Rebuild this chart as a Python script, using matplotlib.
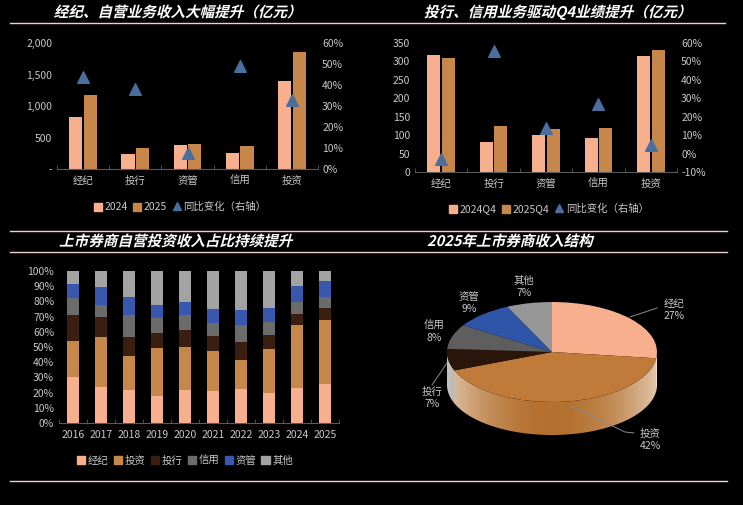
import matplotlib
matplotlib.use("Agg")
import matplotlib.pyplot as plt
import numpy as np
from matplotlib.lines import Line2D
from matplotlib.patches import Patch, Polygon
from matplotlib.ticker import FuncFormatter, FixedLocator
from matplotlib.patheffects import AbstractPathEffect
from matplotlib.transforms import Affine2D
from matplotlib.colors import to_rgb

plt.rcParams['font.family'] = ['Noto Sans CJK SC', 'DejaVu Sans']
plt.rcParams['axes.unicode_minus'] = False

# ---------------- data ----------------
categories = ['经纪', '投行', '资管', '信用', '投资']
rev_2024 = [820, 236, 376, 250, 1392]
rev_2025 = [1180, 326, 402, 372, 1852]
yoy_annual = [0.44, 0.38, 0.076, 0.49, 0.33]

q4_2024 = [318, 81, 101, 92, 315]
q4_2025 = [310, 125, 116, 119, 332]
yoy_q4 = [-0.03, 0.555, 0.138, 0.27, 0.045]

years = ['2016', '2017', '2018', '2019', '2020', '2021', '2022', '2023', '2024', '2025']
share_jingji = [30.3, 24.0, 22.0, 18.0, 22.0, 21.0, 22.4, 20.0, 23.0, 25.9]
share_touzi = [23.7, 32.6, 22.0, 31.6, 28.2, 26.6, 19.0, 28.7, 41.7, 41.9]
share_touhang = [17.0, 13.1, 12.8, 9.4, 11.0, 9.6, 11.9, 9.2, 7.0, 7.9]
share_xinyong = [11.0, 7.9, 14.2, 10.0, 9.8, 8.4, 11.2, 8.8, 8.1, 7.4]
share_ziguan = [9.4, 11.7, 12.0, 8.6, 8.8, 9.2, 9.8, 9.2, 10.6, 10.1]
share_qita = [8.6, 10.7, 17.0, 22.4, 20.2, 25.2, 25.7, 24.1, 9.6, 6.8]
stack_names = ['经纪', '投资', '投行', '信用', '资管', '其他']

pie_labels = ['经纪', '投资', '投行', '信用', '资管', '其他']
pie_share = [27, 42, 7, 8, 9, 7]

# ---------------- style ----------------
BG = '#000000'
C_LIGHT = '#F7AF8E'
C_BROWN = '#C7864A'
C_DARK = '#3A1E0F'
C_GRAY = '#6B6B6B'
C_BLUE = '#3858AE'
C_LGRAY = '#A3A3A3'
C_TRI = '#4A6E9E'
TXT = '#C8C8C8'
LINE = '#EBD3CF'
FS = 7.5

W, H = 743, 505
fig = plt.figure(figsize=(W / 100, H / 100), dpi=100, facecolor=BG)


def rect(l, t, r, b):
    return [l / W, 1 - b / H, (r - l) / W, (b - t) / H]


def fx(px):
    return px / W


def fy(py):
    return 1 - py / H


class Skew(AbstractPathEffect):
    def __init__(self, deg=14):
        super().__init__()
        self.deg = deg

    def draw_path(self, renderer, gc, tpath, affine, rgbFace=None):
        renderer.draw_path(gc, tpath, Affine2D().skew_deg(self.deg, 0) + affine, rgbFace)


# separator lines
for (x0, x1, yy) in [(10, 725, 23), (10, 727, 231), (10, 727, 252), (10, 727, 481)]:
    fig.add_artist(Line2D([fx(x0), fx(x1)], [fy(yy), fy(yy)], color=LINE, lw=1.0))

title_kw = dict(color='white', fontsize=10.5, fontweight='bold', ha='center', va='center',
                path_effects=[Skew(14)])
fig.text(fx(178), fy(12), '经纪、自营业务收入大幅提升（亿元）', **title_kw)
fig.text(fx(558), fy(12), '投行、信用业务驱动Q4业绩提升（亿元）', **title_kw)
fig.text(fx(176), fy(241), '上市券商自营投资收入占比持续提升', **title_kw)
fig.text(fx(510), fy(241), '2025年上市券商收入结构', **title_kw)


def style_axes(ax):
    ax.set_facecolor('none')
    for s in ['top', 'left', 'right']:
        ax.spines[s].set_visible(False)
    ax.spines['bottom'].set_color('#5A5A5A')
    ax.spines['bottom'].set_linewidth(0.8)
    ax.tick_params(axis='y', length=0, colors=TXT, labelsize=FS)
    ax.tick_params(axis='x', which='major', length=0, colors=TXT, labelsize=FS, pad=5)
    ax.tick_params(axis='x', which='minor', length=3, direction='in', color='#5A5A5A')


def bar_panel(ax, v1, v2, yoy, ymax, ystep, rlim, rstep, lfmt, lab1, lab2, legend_xy):
    x = np.arange(len(categories))
    w = 0.25
    ax.bar(x - 0.14, v1, width=w, color=C_LIGHT, label=lab1)
    ax.bar(x + 0.14, v2, width=w, color=C_BROWN, label=lab2)
    ax.set_xlim(-0.5, len(categories) - 0.5)
    ax.set_ylim(0, ymax)
    ax.set_yticks(np.arange(0, ymax + 1, ystep))
    ax.yaxis.set_major_formatter(FuncFormatter(lfmt))
    ax.set_xticks(x)
    ax.set_xticklabels(categories)
    ax.xaxis.set_minor_locator(FixedLocator(np.arange(-0.5, len(categories), 1.0)))
    style_axes(ax)
    ax2 = ax.twinx()
    ax2.scatter(x, yoy, marker='^', s=70, color=C_TRI, zorder=5, label='同比变化（右轴）')
    ax2.set_ylim(*rlim)
    ax2.set_yticks(np.arange(rlim[0], rlim[1] + 1e-9, rstep))
    ax2.yaxis.set_major_formatter(FuncFormatter(lambda v, p: f'{v * 100:.0f}%'))
    for s in ['top', 'left', 'right', 'bottom']:
        ax2.spines[s].set_visible(False)
    ax2.tick_params(axis='y', length=0, colors=TXT, labelsize=FS, pad=3)
    handles = [Patch(color=C_LIGHT, label=lab1), Patch(color=C_BROWN, label=lab2),
               Line2D([], [], marker='^', ls='none', color=C_TRI, markersize=6, label='同比变化（右轴）')]
    fig.legend(handles=handles, loc='center', bbox_to_anchor=(fx(legend_xy[0]), fy(legend_xy[1])),
               ncol=3, frameon=False, fontsize=FS, labelcolor=TXT, handlelength=0.8,
               handleheight=0.8, handletextpad=0.25, columnspacing=0.5)


ax1 = fig.add_axes(rect(57, 43, 318, 169))
bar_panel(ax1, rev_2024, rev_2025, yoy_annual, 2000, 500, (0, 0.6), 0.1,
          lambda v, p: '-' if v == 0 else f'{v:,.0f}', '2024', '2025', (180, 207))

ax2 = fig.add_axes(rect(415, 43, 677, 172))
bar_panel(ax2, q4_2024, q4_2025, yoy_q4, 350, 50, (-0.1, 0.6), 0.1,
          lambda v, p: f'{v:.0f}', '2024Q4', '2025Q4', (549, 209))

# ---------------- stacked 100% bars ----------------
ax3 = fig.add_axes(rect(59, 271, 339, 423))
series = [share_jingji, share_touzi, share_touhang, share_xinyong, share_ziguan, share_qita]
colors = [C_LIGHT, C_BROWN, C_DARK, C_GRAY, C_BLUE, C_LGRAY]
xs = np.arange(len(years))
bottom = np.zeros(len(years))
for name, vals, c in zip(stack_names, series, colors):
    ax3.bar(xs, vals, bottom=bottom, width=0.44, color=c, label=name)
    bottom = bottom + np.array(vals)
ax3.set_xlim(-0.5, len(years) - 0.5)
ax3.set_ylim(0, 100)
ax3.set_yticks(np.arange(0, 101, 10))
ax3.yaxis.set_major_formatter(FuncFormatter(lambda v, p: f'{v:.0f}%'))
ax3.set_xticks(xs)
ax3.set_xticklabels(years)
ax3.xaxis.set_minor_locator(FixedLocator(np.arange(-0.5, len(years), 1.0)))
style_axes(ax3)
h3 = [Patch(color=c, label=n) for n, c in zip(stack_names, colors)]
fig.legend(handles=h3, loc='center', bbox_to_anchor=(fx(185), fy(461)), ncol=6, frameon=False,
           fontsize=FS, labelcolor=TXT, handlelength=0.8, handleheight=0.8,
           handletextpad=0.25, columnspacing=0.5)

# ---------------- 3D-like pie ----------------
ax4 = fig.add_axes(rect(372, 260, 743, 480))
ax4.set_facecolor('none')
CX, CY, RX, RY = 552, 352, 105, 50


def px2d(px, py):
    return (px - CX) / RX, (CY - py) / RY


top_colors = [C_LIGHT, '#C07A3A', '#2A150B', '#5E5E5E', '#2F55A8', '#969696']
side_base = ['#E9B999', '#B4702E', '#6E6862', '#555555', '#233F80', '#707070']
depth = 0.66

# side wall: a horizontal lighting gradient, coloured by the slice at the front
N = 500
xg = np.linspace(-1, 1, N)
theta = -np.degrees(np.arccos(xg))
frac = ((90 - theta) % 360) / 360.0
bounds = np.cumsum(pie_share) / np.sum(pie_share)
idx = np.clip(np.searchsorted(bounds, frac), 0, len(pie_share) - 1)
mix = 0.6 * xg ** 2
img = np.zeros((1, N, 3))
for i in range(N):
    base = np.array(to_rgb(side_base[idx[i]]))
    img[0, i] = base + (1 - base) * mix[i]
tt = np.linspace(np.pi, 2 * np.pi, 200)
wall = np.concatenate([np.c_[np.cos(tt), np.sin(tt)],
                       np.c_[np.cos(tt[::-1]), np.sin(tt[::-1]) - depth]])
wall_patch = Polygon(wall, closed=True, facecolor='none', edgecolor='none', transform=ax4.transData)
ax4.add_patch(wall_patch)
im = ax4.imshow(img, extent=(-1, 1, -1 - depth, 0.2), aspect='auto', interpolation='bilinear', zorder=1)
im.set_clip_path(wall_patch)

ax4.pie(pie_share, colors=top_colors, startangle=90, counterclock=False,
        center=(0, 0), radius=1, wedgeprops=dict(linewidth=0, zorder=3))
ax4.set_aspect('auto')
ax4.set_xlim(px2d(372, 0)[0], px2d(743, 0)[0])
ax4.set_ylim(px2d(0, 480)[1], px2d(0, 260)[1])
ax4.axis('off')

label_pos = {'经纪': (674, 310), '投资': (650, 440), '投行': (432, 398),
             '信用': (434, 332), '资管': (469, 303), '其他': (524, 287)}
for name, val in zip(pie_labels, pie_share):
    lx, ly = px2d(*label_pos[name])
    ax4.text(lx, ly, f'{name}\n{val}%', color=TXT, fontsize=FS, ha='center', va='center',
             linespacing=1.2, zorder=6)

leaders = [[(630, 317), (657, 308)], [(569, 405), (625, 432), (634, 433)], [(447, 363), (432, 385)]]
for seg in leaders:
    pts = [px2d(*p) for p in seg]
    ax4.plot([p[0] for p in pts], [p[1] for p in pts], color='#8A8A8A', lw=0.7, zorder=5)

fig.savefig('out.png', dpi=100, facecolor=BG)
